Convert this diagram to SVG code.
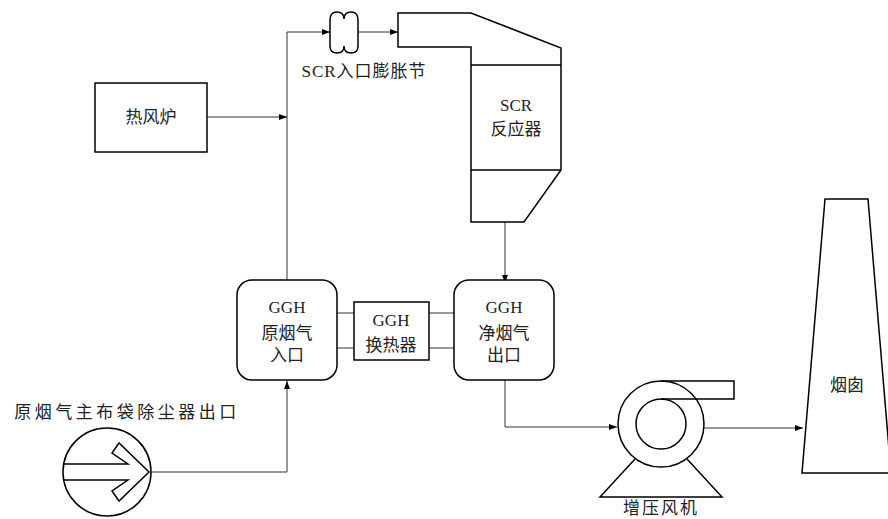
<svg xmlns="http://www.w3.org/2000/svg" width="888" height="519" viewBox="0 0 888 519">
<style>
.s{fill:#fff;stroke:#000;stroke-width:1.5;stroke-linejoin:miter}
.n{fill:none;stroke:#000;stroke-width:1.5}
.c{fill:none;stroke:#333;stroke-width:1}
.t{font-family:"Liberation Serif","Noto Sans CJK SC",serif;font-size:17px;fill:#222;text-anchor:middle}
</style>
<defs>
<marker id="a" viewBox="0 0 8 6" refX="8" refY="3" markerWidth="8" markerHeight="6" markerUnits="userSpaceOnUse" orient="auto">
<path d="M0,0 L8,3 L0,6 Z" fill="#000"/>
</marker>
</defs>
<rect width="888" height="519" fill="#fff"/>
<g id="connectors">
<path class="c" d="M287,280 V32 H330" marker-end="url(#a)"/>
<path class="c" d="M358,32 H398" marker-end="url(#a)"/>
<path class="c" d="M207,117 H287" marker-end="url(#a)"/>
<path class="c" d="M505,222 V283" marker-end="url(#a)"/>
<path class="c" d="M151,472 H287 V381" marker-end="url(#a)"/>
<path class="c" d="M337,313 H354 M337,348 H354 M429,313 H454 M429,348 H454"/>
<path class="c" d="M505,380 V427 H617" marker-end="url(#a)"/>
<path class="c" d="M704,428 H803" marker-end="url(#a)"/>
</g>
<g id="heater">
<rect class="s" x="95" y="83" width="112" height="69"/>
<text class="t" x="151" y="123">热风炉</text>
</g>
<g id="expansion-joint">
<path class="s" d="M330,20 Q330,12 337,12 Q344,12 344,19 Q344,12 351,12 Q358,12 358,20 L358,46 Q358,53 351,53 Q344,53 344,46 Q344,53 337,53 Q330,53 330,46 Z"/>
<text class="t" x="364" y="77" letter-spacing="1">SCR入口膨胀节</text>
</g>
<g id="scr-reactor">
<path class="s" d="M398,13 H471 L561,48 V170 L524,222 H471 V47 H398 Z"/>
<path class="n" d="M471,65 H561 M471,170 H561"/>
<text class="t" x="516" y="111">SCR</text>
<text class="t" x="516" y="135">反应器</text>
</g>
<g id="ggh-in">
<rect class="s" x="237" y="280" width="100" height="100" rx="15"/>
<text class="t" x="287" y="313">GGH</text>
<text class="t" x="287" y="339">原烟气</text>
<text class="t" x="287" y="361">入口</text>
</g>
<g id="ggh-hx">
<rect class="s" x="354" y="302" width="75" height="58"/>
<text class="t" x="391" y="326">GGH</text>
<text class="t" x="391" y="351">换热器</text>
</g>
<g id="ggh-out">
<rect class="s" x="454" y="280" width="100" height="100" rx="15"/>
<text class="t" x="504" y="313">GGH</text>
<text class="t" x="504" y="339">净烟气</text>
<text class="t" x="504" y="361">出口</text>
</g>
<g id="source">
<circle class="s" cx="107" cy="472" r="44"/>
<path class="n" stroke-width="1" d="M64,464 H128 L112,453 L119,443 L149,472 L119,501 L112,491 L128,480 H64"/>
<text class="t" x="127" y="418" letter-spacing="3.5">原烟气主布袋除尘器出口</text>
</g>
<g id="fan">
<path class="n" d="M635,459 L600,497 H722 L687,459"/>
<circle class="s" cx="661" cy="424" r="43"/>
<path class="n" d="M661,381 H734 V399 H661"/>
<circle class="n" cx="661" cy="424" r="25"/>
<text class="t" x="661" y="514" letter-spacing="2">增压风机</text>
</g>
<g id="chimney">
<path class="s" d="M825,199 H868 L891,473 H802 Z"/>
<text class="t" x="847" y="391">烟囱</text>
</g>
</svg>
